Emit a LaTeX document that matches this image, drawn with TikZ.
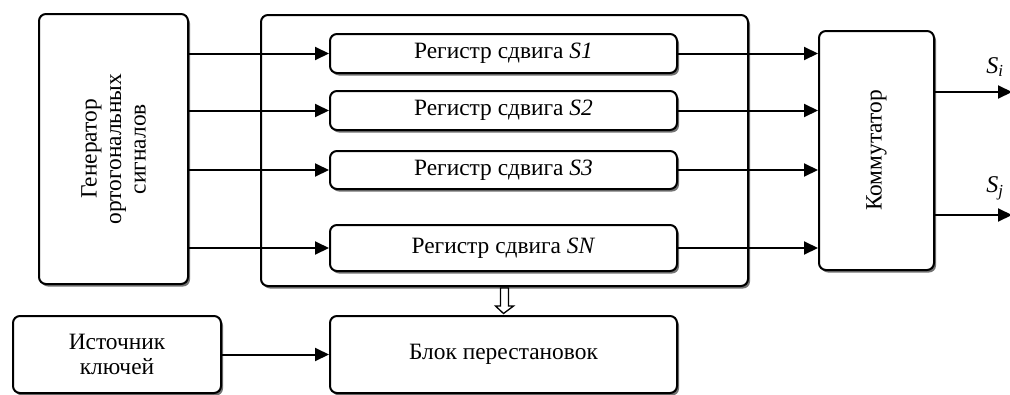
\documentclass[tikz,border=0pt]{standalone}
\usepackage{fontspec}
\setmainfont{Liberation Serif}
\usetikzlibrary{arrows.meta,shadows,calc}
\begin{document}
\begin{tikzpicture}[x=1pt,y=-1pt,
  txt/.style={font=\fontsize{23.4}{24.5}\selectfont},
  box/.style={draw, line width=2pt, rounded corners=7pt, fill=white,
    drop shadow={shadow xshift=2pt, shadow yshift=-2.5pt, fill=black!55, opacity=1},
    inner sep=0pt, align=center, txt},
  arr/.style={line width=2pt, -{Triangle[length=14pt,width=13pt]}},
  lbl/.style={font=\fontsize{24}{25}\selectfont\itshape, inner sep=0pt},
  hollow/.style={draw, line width=1.3pt, fill=white}
]
\useasboundingbox (0,0) rectangle (1010,394);

\node[box, minimum width=149pt, minimum height=270pt] (gen) at (113.5,149) {};
\node[rotate=90, align=center, txt] (gentxt) at (gen.center) {Генератор\\ ортогональных\\ сигналов};

\node[box, minimum width=487pt, minimum height=271pt] (big) at (504.5,150.5) {};

\node[box, minimum width=347pt, minimum height=39pt] (r1) at (503.5,53.5) {Регистр сдвига \textit{S1}};
\node[box, minimum width=347pt, minimum height=39pt] (r2) at (503.5,110.5) {Регистр сдвига \textit{S2}};
\node[box, minimum width=347pt, minimum height=38pt] (r3) at (503.5,170) {Регистр сдвига \textit{S3}};
\node[box, minimum width=347pt, minimum height=46pt] (rn) at (503.5,248) {Регистр сдвига \textit{SN}};

\node[box, minimum width=115pt, minimum height=239pt] (com) at (876.5,150.5) {};
\node[rotate=90, txt] (comtxt) at (com.center) {Коммутатор};

\node[box, minimum width=208pt, minimum height=77pt, font=\fontsize{23.4}{25}\selectfont] (src) at (117,354.5) {Источник\\ ключей};
\node[box, minimum width=347pt, minimum height=77pt] (perm) at (503.5,354.5) {Блок перестановок};

\foreach \r in {r1,r2,r3,rn}{
  \draw[arr] (gen.east |- \r.west) -- (\r.west);
  \draw[arr] (\r.east) -- (com.west |- \r.east);
}

\coordinate (o1) at (1012,92);
\coordinate (o2) at (1012,215);
\draw[arr] (com.east |- o1) -- (o1);
\draw[arr] (com.east |- o2) -- (o2);
\node[lbl, anchor=south] (si) at (995,77) {S\textsubscript{i}};
\node[lbl, anchor=south] (sj) at (995,200) {S\textsubscript{j}};

\draw[arr] (src.east) -- (perm.west);

\path (big.south) ++(0,1) coordinate (ha);
\draw[hollow] (ha) ++(-4,0) -- ++(8,0) -- ++(0,18) -- ++(5,0) -- ($(perm.north)+(0,-1.5)$) -- ($(ha)+(-9,18)$) -- ++(5,0) -- cycle;
\end{tikzpicture}
\end{document}
